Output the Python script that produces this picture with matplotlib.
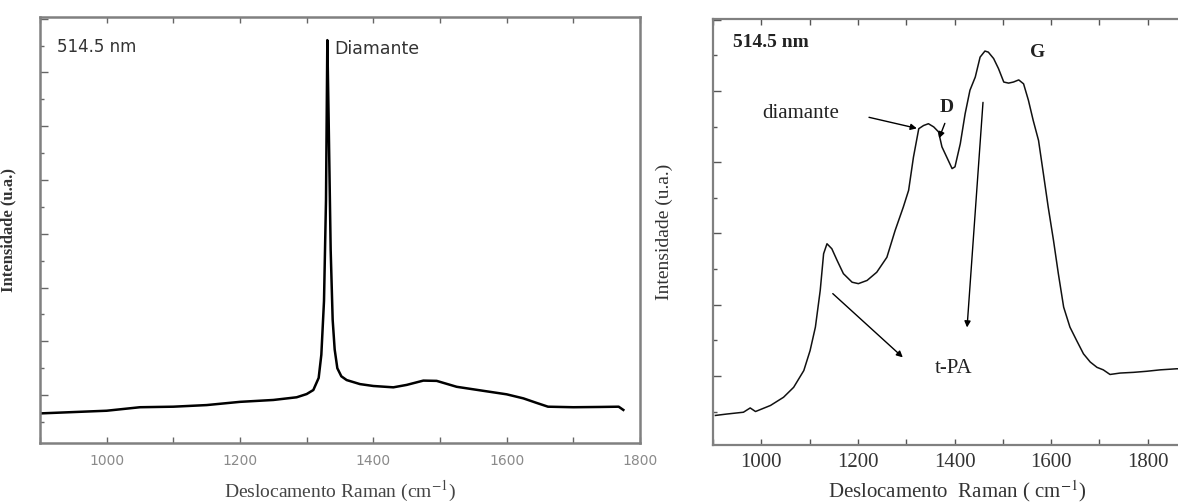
import numpy as np
import matplotlib.pyplot as plt
from matplotlib.ticker import MultipleLocator, NullFormatter

plt.rcParams['mathtext.fontset'] = 'stix'

# Raman spectrum, left panel (diamond film)
x_left = [900, 1000, 1050, 1100, 1150, 1200, 1250, 1285, 1300, 1310, 1318, 1322,
          1326, 1329, 1331, 1333, 1336, 1339, 1342, 1346, 1352, 1360, 1380, 1400,
          1430, 1450, 1475, 1495, 1525, 1565, 1600, 1625, 1645, 1662, 1700, 1740,
          1768, 1775]
y_left = [-0.34, -0.29, -0.225, -0.215, -0.185, -0.125, -0.09, -0.04, 0.02, 0.095,
          0.32, 0.75, 1.75, 3.63, 6.6, 5.1, 2.7, 1.4, 0.85, 0.5, 0.35, 0.28, 0.205,
          0.17, 0.145, 0.19, 0.27, 0.265, 0.155, 0.08, 0.015, -0.06, -0.145, -0.215,
          -0.225, -0.22, -0.215, -0.275]

# Raman spectrum, right panel (DLC film)
x_right = [905, 929, 963, 977, 988, 1019, 1046, 1067, 1088, 1101, 1112, 1122, 1129,
           1136, 1146, 1157, 1170, 1188, 1201, 1219, 1239, 1260, 1277, 1294, 1305,
           1315, 1326, 1336, 1346, 1357, 1367, 1374, 1384, 1395, 1401, 1412, 1422,
           1432, 1443, 1453, 1463, 1470, 1481, 1491, 1502, 1512, 1522, 1533, 1543,
           1553, 1563, 1574, 1584, 1594, 1605, 1615, 1626, 1639, 1653, 1667, 1681,
           1695, 1708, 1722, 1743, 1771, 1798, 1826, 1860, 1900]
y_right = [-0.555, -0.535, -0.51, -0.45, -0.5, -0.415, -0.30, -0.16, 0.075, 0.355,
           0.685, 1.20, 1.715, 1.855, 1.785, 1.62, 1.435, 1.315, 1.295, 1.34, 1.455,
           1.665, 2.04, 2.37, 2.605, 3.07, 3.47, 3.515, 3.54, 3.495, 3.425, 3.215,
           3.07, 2.91, 2.935, 3.26, 3.68, 4.01, 4.195, 4.475, 4.56, 4.545, 4.455,
           4.315, 4.125, 4.11, 4.125, 4.155, 4.10, 3.87, 3.585, 3.305, 2.84, 2.37,
           1.90, 1.435, 0.965, 0.685, 0.495, 0.31, 0.195, 0.12, 0.085, 0.02, 0.04,
           0.05, 0.065, 0.085, 0.10, 0.10]

xticks_left = [1000, 1200, 1400, 1600, 1800]
xticks_right = [1000, 1200, 1400, 1600, 1800]

serif = ['Liberation Serif', 'DejaVu Serif']
sans = ['DejaVu Sans']

fig = plt.figure(figsize=(11.78, 5.04), dpi=100)

# ---- left panel
ax1 = fig.add_axes([40 / 1178, 61 / 504, 600 / 1178, 426 / 504])
ax1.plot(x_left, y_left, color='black', linewidth=1.8)
ax1.set_xlim(900, 1800)
ax1.set_ylim(-0.89, 7.03)
for sp in ax1.spines.values():
    sp.set_color('#808080')
    sp.set_linewidth(1.8)
ax1.set_xticks(xticks_left)
ax1.xaxis.set_minor_locator(MultipleLocator(100))
ax1.yaxis.set_major_locator(MultipleLocator(1))
ax1.yaxis.set_minor_locator(MultipleLocator(0.5))
ax1.yaxis.set_major_formatter(NullFormatter())
ax1.tick_params(axis='x', which='both', direction='in', top=True, bottom=True,
                length=4, width=1, color='#666666', labelsize=10,
                labelcolor='#8a8a8a', pad=8)
ax1.tick_params(axis='y', which='major', direction='in', left=True, right=False,
                length=6, width=1, color='#666666')
ax1.tick_params(axis='y', which='minor', direction='in', left=True, right=False,
                length=3, width=1, color='#666666')
for lab in ax1.get_xticklabels():
    lab.set_family(sans)
ax1.text(0.5, -0.129, 'Deslocamento Raman (cm$^{-1}$)', transform=ax1.transAxes,
         family=serif, fontsize=14, color='#444444', ha='center', va='baseline')
ax1.set_ylabel('Intensidade (u.a.)', family=serif, fontsize=12, color='#333333',
               fontweight='bold')
ax1.yaxis.set_label_coords(-0.04, 0.5)
ax1.text(925, 6.47, '514.5 nm', family=sans, fontsize=12, color='#333333',
         va='center')
ax1.text(1342, 6.43, 'Diamante', family=sans, fontsize=12.5, color='#333333',
         va='center')

# ---- right panel (cut at the figure edge)
ax2 = fig.add_axes([713 / 1178, 59 / 504, 483 / 1178, 426 / 504])
ax2.plot(x_right, y_right, color='#111111', linewidth=1.1)
ax2.set_xlim(900, 1900)
ax2.set_ylim(-0.97, 5.01)
for sp in ax2.spines.values():
    sp.set_color('#808080')
    sp.set_linewidth(1.6)
ax2.set_xticks(xticks_right)
ax2.xaxis.set_minor_locator(MultipleLocator(100))
ax2.yaxis.set_major_locator(MultipleLocator(1))
ax2.yaxis.set_minor_locator(MultipleLocator(0.5))
ax2.yaxis.set_major_formatter(NullFormatter())
ax2.tick_params(axis='x', which='both', direction='in', top=True, bottom=True,
                length=4, width=1, color='#555555', labelsize=15,
                labelcolor='#333333', pad=6)
ax2.tick_params(axis='y', which='major', direction='in', left=True, right=False,
                length=6, width=1, color='#555555')
ax2.tick_params(axis='y', which='minor', direction='in', left=True, right=False,
                length=3, width=1, color='#555555')
for lab in ax2.get_xticklabels():
    lab.set_family(serif)
ax2.text(0.505, -0.124, 'Deslocamento  Raman ( cm$^{-1}$)',
         transform=ax2.transAxes, family=serif, fontsize=15, color='#333333',
         ha='center', va='baseline')
ax2.set_ylabel('Intensidade (u.a.)', family=serif, fontsize=14, color='#333333')
ax2.yaxis.set_label_coords(-0.083, 0.5)

ax2.text(941, 4.68, '514.5 nm', family=serif, fontsize=14, fontweight='bold',
         color='#222222', va='center')
ax2.text(1572, 4.54, 'G', family=serif, fontsize=14, fontweight='bold',
         color='#222222', ha='center', va='center')
ax2.text(1384, 3.77, 'D', family=serif, fontsize=14, fontweight='bold',
         color='#222222', ha='center', va='center')
ax2.text(1082, 3.685, 'diamante', family=serif, fontsize=15, color='#222222',
         ha='center', va='center')
ax2.text(1399, 0.105, 't-PA', family=serif, fontsize=15, color='#222222',
         ha='center', va='center')

arrow = dict(arrowstyle='-|>', color='black', lw=1.0, mutation_scale=9,
             shrinkA=0, shrinkB=0)
ax2.annotate('', xy=(1322, 3.475), xytext=(1223, 3.63), arrowprops=arrow)
ax2.annotate('', xy=(1368, 3.335), xytext=(1380, 3.545), arrowprops=arrow)
ax2.annotate('', xy=(1426, 0.68), xytext=(1459, 3.84), arrowprops=arrow)
ax2.annotate('', xy=(1293, 0.26), xytext=(1148, 1.155), arrowprops=arrow)

plt.savefig('out.png', dpi=100)
